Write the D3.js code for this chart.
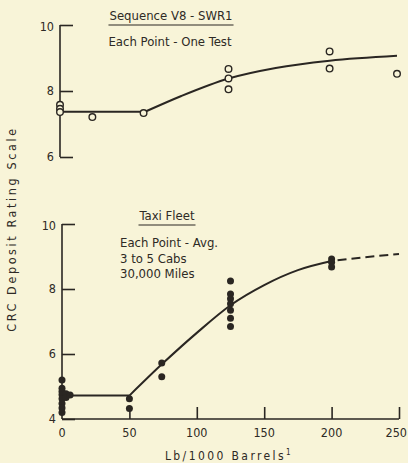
<!DOCTYPE html>
<html><head><meta charset="utf-8">
<script src="https://cdn.jsdelivr.net/npm/d3@7"></script>
<style>
html,body{margin:0;padding:0;background:#f8f4d8;}
svg{display:block;}
text{font-family:"DejaVu Sans Condensed","DejaVu Sans",sans-serif;fill:#2e2a25;}
</style></head><body>
<svg id="c" width="408" height="463"></svg>
<script>
// ---- data ----
const xTicks = [0, 50, 100, 150, 200, 250];
const yTicksTop = [6, 8, 10];
const yTicksBottom = [4, 6, 8, 10];

// Top panel: Sequence V8 - SWR1 (each point one test)
const topPtX = [0, 0, 0, 24, 62, 125, 125, 125, 200, 200, 250];
const topPtY = [7.58, 7.46, 7.36, 7.21, 7.33, 8.67, 8.38, 8.05, 9.2, 8.68, 8.52];
const topFlatX = [0, 63];
const topFlatY = [7.37, 7.37];
const topCurveX = [63, 90, 125, 160, 200, 250];
const topCurveY = [7.37, 7.85, 8.38, 8.7, 8.92, 9.07];

// Bottom panel: Taxi Fleet (each point avg. 3 to 5 cabs)
const botPtX = [0, 0, 0, 0, 0, 0, 0, 0, 3, 3, 6, 50, 50, 74, 74, 125, 125, 125, 125, 125, 125, 125, 200, 200, 200];
const botPtY = [5.2, 4.95, 4.85, 4.75, 4.62, 4.48, 4.34, 4.2, 4.78, 4.66, 4.74, 4.62, 4.32, 5.72, 5.3, 8.25, 7.85, 7.7, 7.55, 7.35, 7.1, 6.85, 8.92, 8.82, 8.68];
const botFlatX = [0, 50];
const botFlatY = [4.72, 4.72];
const botCurveX = [50, 75, 100, 125, 150, 175, 200];
const botCurveY = [4.72, 5.72, 6.65, 7.5, 8.12, 8.58, 8.86];
const botDashX = [200, 225, 250];
const botDashY = [8.86, 8.98, 9.08];

// ---- drawing ----
const svg = d3.select("#c");
const ink = "#2a2622";

const xTop = d3.scaleLinear().domain([0, 250]).range([60, 397]);
const yTop = d3.scaleLinear().domain([6, 10]).range([157, 25]);
const xBot = d3.scaleLinear().domain([0, 250]).range([62, 399]);
const yBot = d3.scaleLinear().domain([4, 10]).range([419, 224]);

function drawYAxis(y, ticks, xpos) {
  const g = svg.append("g").attr("transform", `translate(${xpos},0)`);
  const ax = d3.axisRight(y).tickValues(ticks).tickSize(13).tickFormat("");
  g.call(ax);
  g.select(".domain").attr("d", `M0,${y.range()[0]}V${y.range()[1]}`).attr("stroke", ink).attr("stroke-width", 1.6);
  g.selectAll(".tick line").attr("stroke", ink).attr("stroke-width", 1.6);
  ticks.forEach(t => {
    svg.append("text").attr("x", xpos - 6).attr("y", y(t) + 4 + (t === 10 ? 2 : 0))
      .attr("text-anchor", "end").attr("font-size", 12.5).text(t);
  });
}

drawYAxis(yTop, yTicksTop, 60);
drawYAxis(yBot, yTicksBottom, 62);

// bottom x axis
const gx = svg.append("g").attr("transform", `translate(0,419)`);
gx.call(d3.axisTop(xBot).tickValues(xTicks.slice(1)).tickSize(12).tickFormat(""));
gx.select(".domain").attr("d", `M62,0H399`).attr("stroke", ink).attr("stroke-width", 1.6);
gx.selectAll(".tick line").attr("stroke", ink).attr("stroke-width", 1.6);
xTicks.forEach((t, i) => {
  const last = i === xTicks.length - 1;
  svg.append("text").attr("x", last ? 407 : xBot(t)).attr("y", 437)
    .attr("text-anchor", last ? "end" : "middle")
    .attr("font-size", 12.5).text(t);
});

// lines
const mk = (xs, ys, xS, yS, curve) => d3.line().x(i => xS(xs[i])).y(i => yS(ys[i])).curve(curve)(d3.range(xs.length));
svg.append("path").attr("d", mk(topFlatX, topFlatY, xTop, yTop, d3.curveLinear)).attr("fill", "none").attr("stroke", ink).attr("stroke-width", 2);
svg.append("path").attr("d", mk(topCurveX, topCurveY, xTop, yTop, d3.curveMonotoneX)).attr("fill", "none").attr("stroke", ink).attr("stroke-width", 2);
svg.append("path").attr("d", mk(botFlatX, botFlatY, xBot, yBot, d3.curveLinear)).attr("fill", "none").attr("stroke", ink).attr("stroke-width", 2);
svg.append("path").attr("d", mk(botCurveX, botCurveY, xBot, yBot, d3.curveMonotoneX)).attr("fill", "none").attr("stroke", ink).attr("stroke-width", 2);
svg.append("path").attr("d", mk(botDashX, botDashY, xBot, yBot, d3.curveMonotoneX)).attr("fill", "none").attr("stroke", ink).attr("stroke-width", 2).attr("stroke-dasharray", "9,5").attr("stroke-dashoffset", -6);

// points
svg.append("g").selectAll("circle").data(d3.range(topPtX.length)).join("circle")
  .attr("cx", i => xTop(topPtX[i])).attr("cy", i => yTop(topPtY[i])).attr("r", 3.3)
  .attr("fill", "#f8f4d8").attr("stroke", ink).attr("stroke-width", 1.4);
svg.append("g").selectAll("circle").data(d3.range(botPtX.length)).join("circle")
  .attr("cx", i => xBot(botPtX[i])).attr("cy", i => yBot(botPtY[i])).attr("r", 3.5)
  .attr("fill", ink);

// annotations
function underlined(txt, cx, y) {
  const t = svg.append("text").attr("x", cx).attr("y", y).attr("text-anchor", "middle").attr("font-size", 13).text(txt);
  const w = t.node().getComputedTextLength();
  svg.append("line").attr("x1", cx - w / 2 - 1).attr("x2", cx + w / 2 + 1).attr("y1", y + 5).attr("y2", y + 5)
    .attr("stroke", ink).attr("stroke-width", 1.2);
}
underlined("Sequence V8 - SWR1", 171, 20);
svg.append("text").attr("x", 170).attr("y", 46).attr("text-anchor", "middle").attr("font-size", 13).text("Each Point - One Test");
underlined("Taxi Fleet", 167, 220);
["Each Point - Avg.", "3 to 5 Cabs", "30,000 Miles"].forEach((s, i) => {
  svg.append("text").attr("x", 120).attr("y", 247 + i * 15.5).attr("font-size", 13).text(s);
});

// axis titles
svg.append("text").attr("transform", "translate(16,229) rotate(-90)").attr("text-anchor", "middle")
  .attr("font-size", 12.5).attr("letter-spacing", 2.6).text("CRC Deposit Rating Scale");
const xt = svg.append("text").attr("x", 229).attr("y", 460).attr("text-anchor", "middle")
  .attr("font-size", 12).attr("letter-spacing", 2.4);
xt.append("tspan").text("Lb/1000 Barrels");
xt.append("tspan").attr("dy", -5).attr("font-size", 8).text("1");
</script>
</body></html>
